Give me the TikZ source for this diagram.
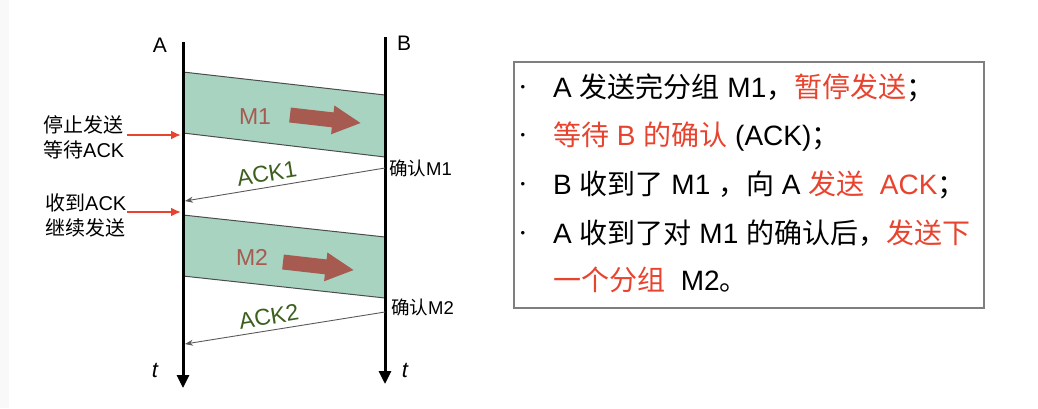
\documentclass[tikz,border=0pt]{standalone}
\usepackage{fontspec}
\setmainfont{Liberation Sans}
\newfontfamily\cjk{Noto Sans CJK SC}
\newcommand\zh[1]{{\cjk #1}}
\usetikzlibrary{arrows.meta}
\definecolor{myred}{HTML}{E8432E}
\definecolor{bandfill}{HTML}{A9D3C1}
\definecolor{msgbrown}{HTML}{A65A50}
\definecolor{ackgreen}{HTML}{3C5F1E}
\definecolor{boxgray}{HTML}{7F7F7F}
\tikzset{
  fs/.style={font=\fontsize{#1}{#1}\selectfont},
  axisline/.style={line width=3pt, -{Triangle[length=13pt,width=12pt]}},
  bandedge/.style={draw=black!70, line width=1pt},
  ackline/.style={draw=black!65, line width=0.9pt, {Stealth[length=8pt,width=6pt]}-},
  acklabel/.style={fs=23, text=ackgreen, sloped, above=4pt, inner sep=1pt},
  msglabel/.style={fs=23, text=msgbrown, inner sep=0pt},
  sidelabel/.style={font=\fontsize{20}{25}\selectfont, align=left, inner sep=0pt, anchor=west},
  redarrow/.style={draw=myred, line width=2pt, -{Latex[length=10pt,width=9pt]}},
  conf/.style={fs=18.5, anchor=west, inner sep=0pt},
  boxline/.style={fs=28, anchor=base west, inner sep=0pt},
  bullet/.style={fs=13, anchor=center, inner sep=0pt},
  tlabel/.style={font=\fontsize{22}{22}\selectfont\itshape, inner sep=0pt},
}
\begin{document}
\begin{tikzpicture}[x=1pt,y=-1pt]
\useasboundingbox (0,0) rectangle (1038,408);
\fill[gray!5] (0,0) rectangle (9,408);

% coordinates on the time lines
\coordinate (Atop) at (183,42);
\coordinate (Abot) at (183,388);
\coordinate (Btop) at (385,37);
\coordinate (Bbot) at (385,384);

% M1 band
\fill[bandfill] (183,72) -- (385,95) -- (385,157) -- (183,133) -- cycle;
\draw[bandedge] (183,72) -- (385,95);
\draw[bandedge] (183,133) -- (385,157);
% M2 band
\fill[bandfill] (183,215) -- (385,237) -- (385,298) -- (183,276) -- cycle;
\draw[bandedge] (183,215) -- (385,237);
\draw[bandedge] (183,276) -- (385,298);

% big arrows
\fill[msgbrown, shift={(290,115)}, rotate=-6.5]
  (0,-7.5) -- (43,-7.5) -- (43,-14.5) -- (71,0) -- (43,14.5) -- (43,7.5) -- (0,7.5) -- cycle;
\fill[msgbrown, shift={(283,262)}, rotate=-6.5]
  (0,-7.5) -- (43,-7.5) -- (43,-14.5) -- (71,0) -- (43,14.5) -- (43,7.5) -- (0,7.5) -- cycle;

\node[msglabel] (m1) at (255,117) {M1};
\node[msglabel] (m2) at (252,257) {M2};

% time lines
\draw[axisline] (Atop) -- (Abot);
\draw[axisline] (Btop) -- (Bbot);
\node[fs=21, inner sep=0pt] (labA) at (160,45) {A};
\node[fs=21, inner sep=0pt] (labB) at (404,43) {B};
\node[tlabel] (tA) at (155,370) {t};
\node[tlabel] (tB) at (405,370) {t};

% ACK lines
\coordinate (ack1B) at (385,168);
\coordinate (ack1A) at (185,201);
\coordinate (ack2B) at (385,312);
\coordinate (ack2A) at (185,344);
\draw[ackline] (ack1A) -- node[acklabel, pos=0.42] (ack1) {ACK1} (ack1B);
\draw[ackline] (ack2A) -- node[acklabel, pos=0.43] (ack2) {ACK2} (ack2B);
\node[conf] (c1) at (389,168) {\zh{确认}M1};
\node[conf] (c2) at (391,307) {\zh{确认}M2};

% left side labels
\node[sidelabel] (stop) at (43,137.5) {\zh{停止发送}\\\zh{等待}ACK};
\node[sidelabel] (go) at (45,215) {\zh{收到}ACK\\\zh{继续发送}};
\coordinate (stopS) at (127,135);
\coordinate (stopA) at (181,135);
\coordinate (goS) at (127,212);
\coordinate (goA) at (181,212);
\draw[redarrow] (stopS) -- (stopA);
\draw[redarrow] (goS) -- (goA);

% right box
\node[draw=boxgray, line width=1.5pt, minimum width=470pt, minimum height=246pt, inner sep=0pt] (box) at (749,185) {};
\node[bullet] (b1) at (523,88) {•};
\node[bullet] (b2) at (523,136) {•};
\node[bullet] (b3) at (523,185) {•};
\node[bullet] (b4) at (523,234) {•};
\node[boxline] (l1) at (553,97) {A \zh{发送完分组} M1\zh{，}\textcolor{myred}{\zh{暂停发送}}\zh{；}};
\node[boxline] (l2) at (553,145) {\textcolor{myred}{\zh{等待} B \zh{的确认}} (ACK)\zh{；}};
\node[boxline] (l3) at (553,194) {B \zh{收到了} M1 \zh{，向} A \textcolor{myred}{\zh{发送}\ \ ACK}\zh{；}};
\node[boxline] (l4) at (553,243) {A \zh{收到了对} M1 \zh{的确认后，}\textcolor{myred}{\zh{发送下}}};
\node[boxline] (l5) at (553,290) {\textcolor{myred}{\zh{一个分组}}\ \ M2\zh{。}};
\end{tikzpicture}
\end{document}
